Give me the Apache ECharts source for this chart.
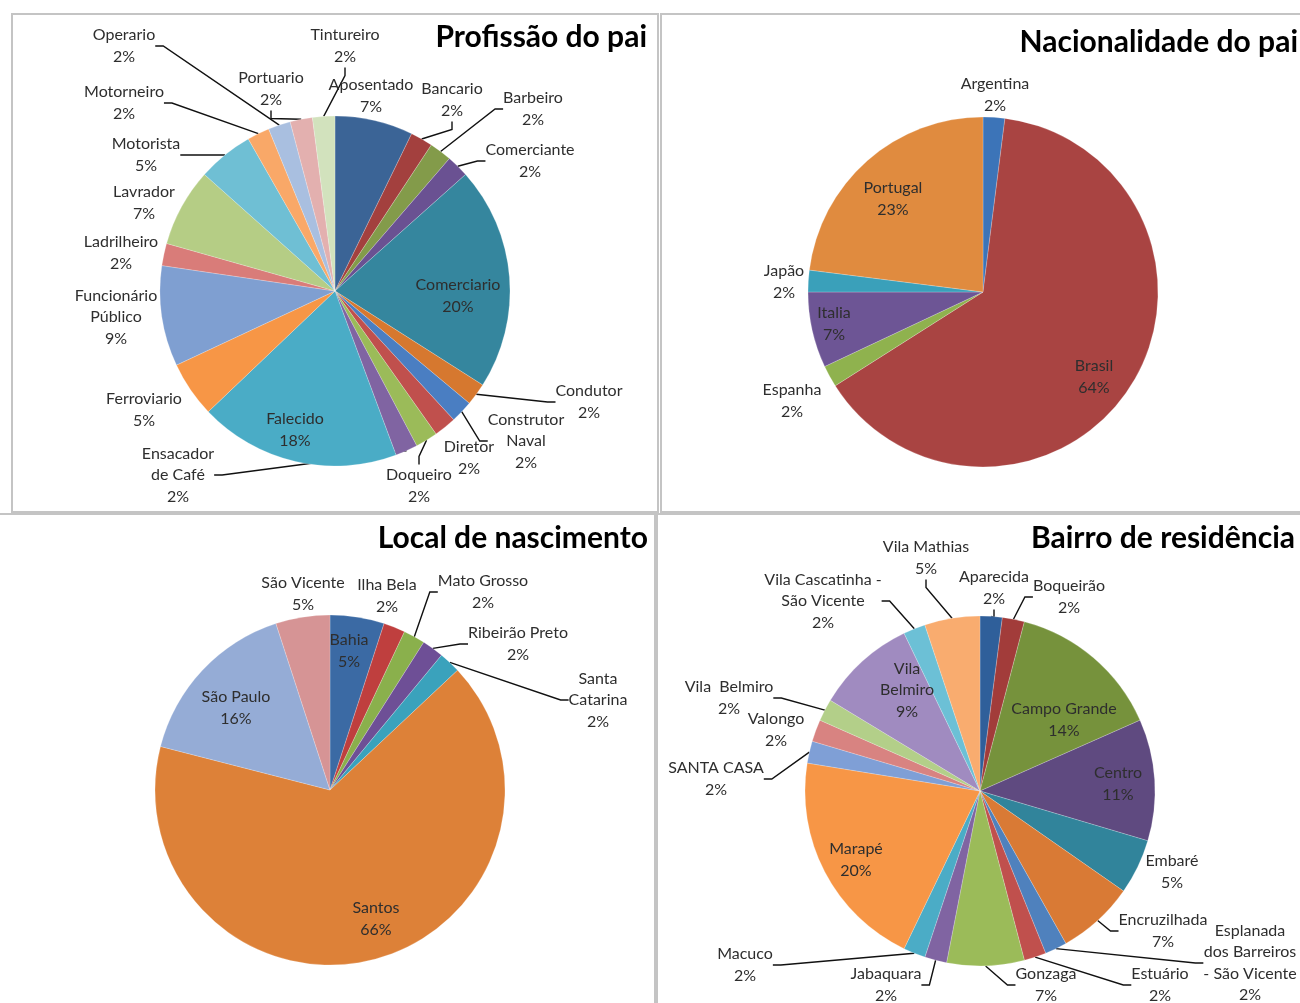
<!DOCTYPE html>
<html>
<head>
<meta charset="utf-8">
<script src="https://cdn.jsdelivr.net/npm/echarts@6/dist/echarts.min.js"></script>
<style>
  html, body { margin: 0; padding: 0; background: #fff; }
  #main { width: 1300px; height: 1003px; }
</style>
</head>
<body>
<div id="main"></div>
<script>
// ---- dados (percentuais) ----
var profissaoNomes = ['Aposentado', 'Bancario', 'Barbeiro', 'Comerciante', 'Comerciario', 'Condutor',
  'Construtor\nNaval', 'Diretor', 'Doqueiro', 'Ensacador\nde Café', 'Falecido', 'Ferroviario',
  'Funcionário\nPúblico', 'Ladrilheiro', 'Lavrador', 'Motorista', 'Motorneiro', 'Operario', 'Portuario', 'Tintureiro'];
var profissaoPct = [7, 2, 2, 2, 20, 2, 2, 2, 2, 2, 18, 5, 9, 2, 7, 5, 2, 2, 2, 2];

var nacionalidadeNomes = ['Argentina', 'Brasil', 'Espanha', 'Italia', 'Japão', 'Portugal'];
var nacionalidadePct = [2, 64, 2, 7, 2, 23];

var nascimentoNomes = ['Bahia', 'Ilha Bela', 'Mato Grosso', 'Ribeirão Preto', 'Santa\nCatarina', 'Santos', 'São Paulo', 'São Vicente'];
var nascimentoPct = [5, 2, 2, 2, 2, 66, 16, 5];

var bairroNomes = ['Aparecida', 'Boqueirão', 'Campo Grande', 'Centro', 'Embaré', 'Encruzilhada',
  'Esplanada\ndos Barreiros\n- São Vicente', 'Estuário', 'Gonzaga', 'Jabaquara', 'Macuco', 'Marapé',
  'SANTA CASA', 'Valongo', 'Vila  Belmiro', 'Vila\nBelmiro', 'Vila Cascatinha -\nSão Vicente', 'Vila Mathias'];
var bairroPct = [2, 2, 14, 11, 5, 7, 2, 2, 7, 2, 2, 20, 2, 2, 2, 9, 2, 5];

// ---- cores ----
var coresProfissao = ['#3b6496', '#a3403e', '#839b4a', '#6a5192', '#35869e', '#d6782f',
  '#4a7ec2', '#c0504d', '#9bbb59', '#8064a2', '#4aacc6', '#f79646',
  '#7f9fd1', '#d97c79', '#b5cd85', '#6fbfd4', '#f9a868', '#a9bfe0', '#e3b0af', '#d2e2bd'];
var coresNacionalidade = ['#3c74b8', '#a94442', '#8fb24e', '#6d5595', '#3aa0ba', '#e08b3f'];
var coresNascimento = ['#3b6aa4', '#bf3f3e', '#8ab04c', '#6e4f96', '#3aa2bc', '#dd8138', '#95acd6', '#d69495'];
var coresBairro = ['#2f5f9a', '#a23c3a', '#76923c', '#5f4a80', '#31849b', '#d97a35',
  '#4f81bd', '#c0504d', '#9bbb59', '#8064a2', '#4bacc6', '#f79646',
  '#7f9fd6', '#d88381', '#b3cf89', '#a08bc0', '#6cc0d6', '#f9ac6f'];

// ---- posição dos rótulos (centro do bloco de texto) e linhas de chamada ----
var rotulosProfissao = [[371, 96], [452, 100], [533, 109], [530, 161], [458, 296], [589, 402],
  [526, 441], [469, 458], [419, 486], [178, 475], [295, 430], [144, 410],
  [116, 317], [121, 253], [144, 203], [146, 155], [124, 103], [124, 46], [271, 89], [345, 46]];
var linhaProfissao = [0, 1, 1, 1, 0, 1, 1, 0, 1, 1, 0, 0, 0, 0, 0, 1, 1, 1, 1, 1];

var rotulosNacionalidade = [[995, 95], [1094, 377], [792, 401], [834, 324], [784, 282], [893, 199]];
var linhaNacionalidade = [0, 0, 0, 0, 0, 0];

var rotulosNascimento = [[349, 651], [387, 596], [483, 592], [518, 644], [598, 700], [376, 919], [236, 708], [303, 594]];
var linhaNascimento = [0, 0, 1, 1, 1, 0, 0, 0];

var rotulosBairro = [[994, 588], [1069, 597], [1064, 720], [1118, 784], [1172, 872], [1163, 931],
  [1250, 963], [1160, 985], [1046, 985], [886, 985], [745, 965], [856, 860],
  [716, 779], [776, 730], [729, 698], [907, 690], [823, 601], [926, 558]];
var linhaBairro = [1, 1, 0, 0, 0, 1, 1, 1, 1, 1, 1, 0, 1, 0, 1, 0, 1, 1];

var fonte = 'Lato, "Open Sans", sans-serif';

function montaDados(nomes, valores, linhas) {
  return nomes.map(function (n, i) {
    return { name: n, value: valores[i], labelLine: { show: !!linhas[i] } };
  });
}

function pizza(nomes, valores, cores, rotulos, linhas, centro) {
  return {
    type: 'pie',
    center: centro,
    radius: 175,
    startAngle: 90,
    clockwise: true,
    animation: false,
    color: cores,
    avoidLabelOverlap: false,
    itemStyle: { borderColor: 'rgba(255,255,255,0.35)', borderWidth: 0.6 },
    emphasis: { disabled: true },
    label: {
      show: true,
      position: 'outside',
      formatter: '{b}\n{c}%',
      fontFamily: fonte,
      fontSize: 16,
      lineHeight: 21.5,
      color: '#2e2e2e',
      align: 'center'
    },
    labelLine: {
      length: 10,
      length2: 8,
      minTurnAngle: 0,
      lineStyle: { color: '#111', width: 1.4 }
    },
    labelLayout: function (p) {
      var r = rotulos[p.dataIndex];
      return { x: r[0], y: r[1], align: 'center', verticalAlign: 'middle' };
    },
    data: montaDados(nomes, valores, linhas)
  };
}

var chart = echarts.init(document.getElementById('main'));

var estiloTitulo = { fontFamily: fonte, fontWeight: 'bold', fontSize: 30, color: '#000' };

var option = {
  backgroundColor: '#fff',
  title: [
    { text: 'Profissão do pai', right: 653, top: 22, padding: 0, textStyle: estiloTitulo },
    { text: 'Nacionalidade do pai', right: 2, top: 27, padding: 0, textStyle: estiloTitulo },
    { text: 'Local de nascimento', right: 652, top: 523, padding: 0, textStyle: estiloTitulo },
    { text: 'Bairro de residência', right: 5, top: 523, padding: 0, textStyle: estiloTitulo }
  ],
  graphic: [
    { type: 'rect', shape: { x: 12, y: 14, width: 646, height: 498 }, style: { fill: 'none', stroke: '#c4c4c4', lineWidth: 2 }, z: -1 },
    { type: 'rect', shape: { x: 661, y: 14, width: 660, height: 498 }, style: { fill: 'none', stroke: '#c4c4c4', lineWidth: 2 }, z: -1 },
    { type: 'rect', shape: { x: -5, y: 514, width: 660, height: 510 }, style: { fill: 'none', stroke: '#c4c4c4', lineWidth: 2 }, z: -1 },
    { type: 'rect', shape: { x: 657, y: 514, width: 660, height: 510 }, style: { fill: 'none', stroke: '#c4c4c4', lineWidth: 2 }, z: -1 }
  ],
  series: [
    pizza(profissaoNomes, profissaoPct, coresProfissao, rotulosProfissao, linhaProfissao, [335, 291]),
    pizza(nacionalidadeNomes, nacionalidadePct, coresNacionalidade, rotulosNacionalidade, linhaNacionalidade, [983, 292]),
    pizza(nascimentoNomes, nascimentoPct, coresNascimento, rotulosNascimento, linhaNascimento, [330, 790]),
    pizza(bairroNomes, bairroPct, coresBairro, rotulosBairro, linhaBairro, [980, 791])
  ]
};

chart.setOption(option);
</script>
</body>
</html>
